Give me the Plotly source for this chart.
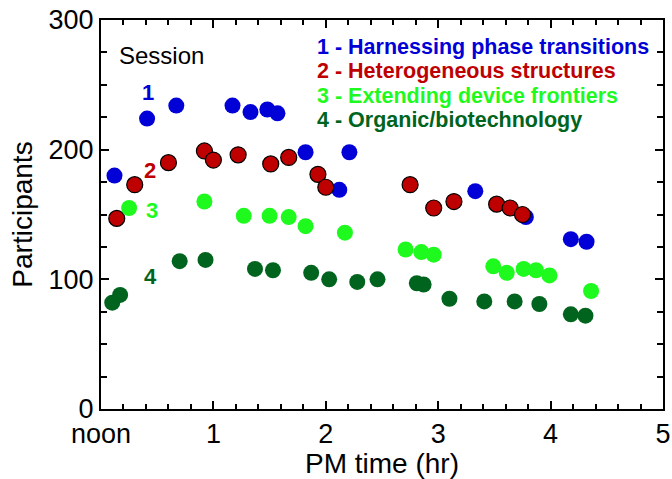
import plotly.graph_objects as go

# Session 1 - Harnessing phase transitions
s1_time = [0.12, 0.41, 0.67, 1.17, 1.33, 1.48, 1.57, 1.82, 2.12, 2.21, 3.33, 3.78, 4.18, 4.32]
s1_part = [180, 224, 234, 234, 229, 231, 228, 198, 169, 198, 168, 148, 131, 129]

# Session 2 - Heterogeneous structures
s2_time = [0.14, 0.30, 0.60, 0.92, 1.00, 1.22, 1.51, 1.67, 1.93, 2.00, 2.75, 2.96, 3.14, 3.52, 3.64, 3.75]
s2_part = [147, 173, 190, 199, 192, 196, 189, 194, 181, 171, 173, 155, 160, 158, 155, 150]

# Session 3 - Extending device frontiers
s3_time = [0.25, 0.92, 1.27, 1.50, 1.67, 1.82, 2.17, 2.71, 2.85, 2.96, 3.49, 3.61, 3.76, 3.87, 3.99, 4.36]
s3_part = [155, 160, 149, 149, 148, 141, 136, 123, 121, 119, 110, 105, 108, 107, 103, 91]

# Session 4 - Organic/biotechnology
s4_time = [0.10, 0.17, 0.70, 0.93, 1.37, 1.53, 1.87, 2.03, 2.28, 2.46, 2.81, 2.87, 3.10, 3.41, 3.68, 3.90, 4.18, 4.31]
s4_part = [82, 88, 114, 115, 108, 107, 105, 100, 98, 100, 97, 96, 85, 83, 83, 81, 73, 72]

x_tickvals = [0, 1, 2, 3, 4, 5]
x_ticktext = ["noon", "1", "2", "3", "4", "5"]
y_tickvals = [0, 100, 200, 300]

session_names = ["1 - Harnessing phase transitions", "2 - Heterogeneous structures",
                 "3 - Extending device frontiers", "4 - Organic/biotechnology"]
session_labels = ["1", "2", "3", "4"]

BLUE = "rgb(0,0,215)"
RED = "rgb(190,0,0)"
LGREEN = "rgb(30,250,30)"
DGREEN = "rgb(0,100,30)"
colors = [BLUE, RED, LGREEN, DGREEN]
FONT = "Liberation Sans, Arial, sans-serif"

fig = go.Figure()
series = [(s1_time, s1_part), (s2_time, s2_part), (s3_time, s3_part), (s4_time, s4_part)]
for i, (xs, ys) in enumerate(series):
    fig.add_trace(go.Scatter(
        x=xs, y=ys, mode="markers", showlegend=False,
        marker=dict(size=16, color=colors[i],
                    line=dict(width=1.2 if i == 1 else 0, color="black")),
    ))

# Legend-like text annotations
leg_y = [279, 260.5, 241.5, 222.8]
for i, name in enumerate(session_names):
    fig.add_annotation(x=1.9, y=leg_y[i], text="<b>" + name + "</b>", showarrow=False,
                       xanchor="left", yanchor="middle",
                       font=dict(family=FONT, size=21.5, color=colors[i]))

fig.add_annotation(x=0.14, y=273, text="Session", showarrow=False,
                   xanchor="left", yanchor="middle",
                   font=dict(family=FONT, size=24, color="black"))

num_pos = [(0.42, 244), (0.44, 184), (0.45, 153), (0.44, 102)]
for i, (nx, ny) in enumerate(num_pos):
    fig.add_annotation(x=nx, y=ny, text="<b>" + session_labels[i] + "</b>", showarrow=False,
                       xanchor="center", yanchor="middle",
                       font=dict(family=FONT, size=22, color=colors[i]))

axis_common = dict(
    showline=True, linecolor="black", linewidth=2, mirror="allticks",
    ticks="inside", ticklen=8, tickwidth=2, tickcolor="black",
    showgrid=False, zeroline=False, automargin=False,
    tickfont=dict(family=FONT, size=27, color="black"),
)

fig.update_xaxes(
    range=[0, 5], tickmode="array", tickvals=x_tickvals, ticktext=x_ticktext,
    minor=dict(dtick=0.2, ticks="inside", ticklen=5, tickwidth=2, tickcolor="black"),
    title=dict(text="PM time (hr)", font=dict(family=FONT, size=28, color="black"), standoff=2),
    **axis_common,
)
fig.update_yaxes(
    range=[0, 300], tickmode="array", tickvals=y_tickvals,
    minor=dict(dtick=25, ticks="inside", ticklen=6, tickwidth=2, tickcolor="black"),
    title=dict(text="Participants", font=dict(family=FONT, size=28, color="black"), standoff=8),
    **axis_common,
)

fig.update_layout(
    width=672, height=479,
    margin=dict(l=101, r=9, t=20, b=70),
    plot_bgcolor="white", paper_bgcolor="white",
    font=dict(family=FONT),
)

fig.write_html("out.html", config={"displayModeBar": False},
               post_script="document.body.style.margin='0';document.body.style.padding='0';")
